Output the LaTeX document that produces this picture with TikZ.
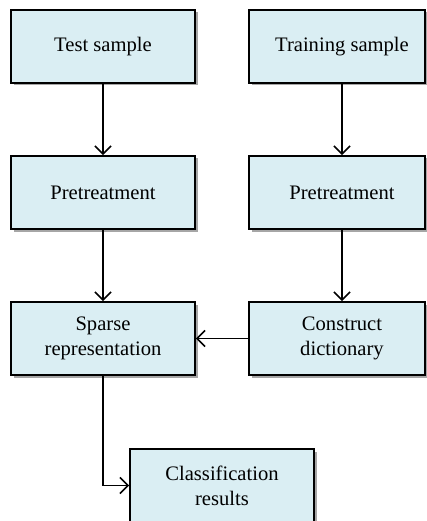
\documentclass[tikz,border=0pt]{standalone}
\usepackage{fontspec}
\setmainfont{Liberation Serif}
\usetikzlibrary{arrows.meta,shadows}
\definecolor{boxfill}{HTML}{DAEEF3}
\begin{document}
\begin{tikzpicture}[x=1pt,y=-1pt,
  box/.style={draw=black, line width=1.8pt, fill=boxfill, minimum width=184pt, minimum height=73pt,
    inner sep=0pt, align=center, font=\fontsize{20.6}{25}\selectfont,
    drop shadow={shadow xshift=2.5pt, shadow yshift=-2.5pt, fill=black, opacity=0.35}},
  rbox/.style={box, minimum width=176pt},
  conn/.style={line width=1.6pt, -{Straight Barb[length=8pt,width=16pt,line width=1.6pt]}}]
\useasboundingbox (0,0) rectangle (426,521);
\node[box]  (test)   at (103,46.5)  {Test sample};
\node[rbox] (train)  at (337,46.5)  {\hspace*{10pt}Training sample};
\node[box]  (pre1)   at (103,192.5) {Pretreatment};
\node[rbox] (pre2)   at (337,192.5) {\hspace*{10pt}Pretreatment};
\node[box]  (sparse) at (103,338.5) {Sparse\\representation};
\node[rbox] (dict)   at (337,338.5) {\hspace*{10pt}Construct\\\hspace*{10pt}dictionary};
\node[box]  (class)  at (222,485.5) {Classification\\results};
\draw[conn] (test) -- (pre1);
\draw[conn] ([xshift=5pt]train.south) -- ([xshift=5pt]pre2.north);
\draw[conn] (pre1) -- (sparse);
\draw[conn] ([xshift=5pt]pre2.south) -- ([xshift=5pt]dict.north);
\draw[conn] (dict.west) -- (sparse.east);
\draw[conn] (sparse.south) |- (class.west);
\end{tikzpicture}
\end{document}
